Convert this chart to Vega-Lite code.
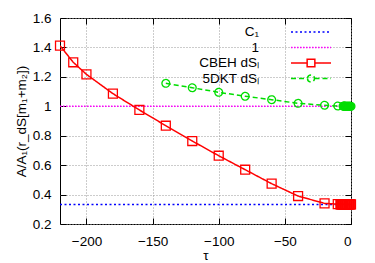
{
  "$schema": "https://vega.github.io/schema/vega-lite/v6.json",
  "width": 291,
  "height": 206,
  "autosize": "none",
  "padding": {"left": 60, "top": 18, "right": 24, "bottom": 39},
  "background": "white",
  "config": {
    "font": "Liberation Sans",
    "view": {"stroke": "black", "strokeWidth": 1},
    "axis": {
      "labelFont": "Liberation Sans",
      "titleFont": "Liberation Sans",
      "labelFontSize": 13.5,
      "titleFontSize": 13.5,
      "titleFontWeight": "normal",
      "labelColor": "black",
      "titleColor": "black",
      "domain": false,
      "tickColor": "black",
      "tickWidth": 1,
      "gridColor": "#999999",
      "gridDash": [1, 2],
      "gridWidth": 1,
      "gridOpacity": 1
    }
  },
  "data": {
    "values": [
      {"tau": -220, "v": 0.3333, "s": "C₁"},
      {"tau": 0, "v": 0.3333, "s": "C₁"},
      {"tau": -220, "v": 1.0, "s": "1"},
      {"tau": 0, "v": 1.0, "s": "1"},
      {"tau": -220, "v": 1.412, "s": "CBEH dSₗ"},
      {"tau": -210, "v": 1.299, "s": "CBEH dSₗ"},
      {"tau": -200, "v": 1.217, "s": "CBEH dSₗ"},
      {"tau": -180, "v": 1.086, "s": "CBEH dSₗ"},
      {"tau": -160, "v": 0.975, "s": "CBEH dSₗ"},
      {"tau": -140, "v": 0.868, "s": "CBEH dSₗ"},
      {"tau": -120, "v": 0.764, "s": "CBEH dSₗ"},
      {"tau": -100, "v": 0.664, "s": "CBEH dSₗ"},
      {"tau": -80, "v": 0.569, "s": "CBEH dSₗ"},
      {"tau": -60, "v": 0.474, "s": "CBEH dSₗ"},
      {"tau": -40, "v": 0.39, "s": "CBEH dSₗ"},
      {"tau": -20, "v": 0.34, "s": "CBEH dSₗ"},
      {"tau": -10, "v": 0.335, "s": "CBEH dSₗ"},
      {"tau": -8, "v": 0.334, "s": "CBEH dSₗ"},
      {"tau": -7.5, "v": 0.334, "s": "CBEH dSₗ"},
      {"tau": -7, "v": 0.334, "s": "CBEH dSₗ"},
      {"tau": -6.5, "v": 0.334, "s": "CBEH dSₗ"},
      {"tau": -6, "v": 0.334, "s": "CBEH dSₗ"},
      {"tau": -5.5, "v": 0.334, "s": "CBEH dSₗ"},
      {"tau": -5, "v": 0.334, "s": "CBEH dSₗ"},
      {"tau": -4.5, "v": 0.3335, "s": "CBEH dSₗ"},
      {"tau": -4, "v": 0.3335, "s": "CBEH dSₗ"},
      {"tau": -3.5, "v": 0.3335, "s": "CBEH dSₗ"},
      {"tau": -3, "v": 0.3335, "s": "CBEH dSₗ"},
      {"tau": -2.5, "v": 0.3335, "s": "CBEH dSₗ"},
      {"tau": -2, "v": 0.3333, "s": "CBEH dSₗ"},
      {"tau": -1.5, "v": 0.3333, "s": "CBEH dSₗ"},
      {"tau": -1, "v": 0.3333, "s": "CBEH dSₗ"},
      {"tau": -0.5, "v": 0.3333, "s": "CBEH dSₗ"},
      {"tau": 0, "v": 0.3333, "s": "CBEH dSₗ"},
      {"tau": -140, "v": 1.156, "s": "5DKT dSₗ"},
      {"tau": -120, "v": 1.126, "s": "5DKT dSₗ"},
      {"tau": -100, "v": 1.095, "s": "5DKT dSₗ"},
      {"tau": -80, "v": 1.068, "s": "5DKT dSₗ"},
      {"tau": -60, "v": 1.045, "s": "5DKT dSₗ"},
      {"tau": -40, "v": 1.02, "s": "5DKT dSₗ"},
      {"tau": -20, "v": 1.007, "s": "5DKT dSₗ"},
      {"tau": -10, "v": 1.002, "s": "5DKT dSₗ"},
      {"tau": -6, "v": 1.001, "s": "5DKT dSₗ"},
      {"tau": -5.5, "v": 1.001, "s": "5DKT dSₗ"},
      {"tau": -5, "v": 1.001, "s": "5DKT dSₗ"},
      {"tau": -4.5, "v": 1.0, "s": "5DKT dSₗ"},
      {"tau": -4, "v": 1.0, "s": "5DKT dSₗ"},
      {"tau": -3.5, "v": 1.0, "s": "5DKT dSₗ"},
      {"tau": -3, "v": 1.0, "s": "5DKT dSₗ"},
      {"tau": -2.5, "v": 1.0, "s": "5DKT dSₗ"},
      {"tau": -2, "v": 1.0, "s": "5DKT dSₗ"},
      {"tau": -1.5, "v": 1.0, "s": "5DKT dSₗ"},
      {"tau": -1, "v": 1.0, "s": "5DKT dSₗ"},
      {"tau": -0.5, "v": 1.0, "s": "5DKT dSₗ"},
      {"tau": 0, "v": 1.0, "s": "5DKT dSₗ"}
    ]
  },
  "layer": [
    {
      "encoding": {
        "x": {
          "field": "tau", "type": "quantitative",
          "scale": {"domain": [-220, 0], "nice": false, "zero": false},
          "axis": {"title": "τ", "values": [-200, -150, -100, -50, 0], "tickSize": -6, "labelPadding": 16, "titlePadding": 1, "grid": true}
        },
        "y": {
          "field": "v", "type": "quantitative",
          "scale": {"domain": [0.2, 1.6], "nice": false, "zero": false},
          "axis": {"title": "A/A₁(r_dS[m₁+m₂])", "values": [0.2, 0.4, 0.6, 0.8, 1, 1.2, 1.4, 1.6], "format": "~g", "tickSize": -6, "labelPadding": 15, "titlePadding": 4, "grid": true}
        },
        "color": {
          "field": "s", "type": "nominal",
          "scale": {"domain": ["C₁", "1", "CBEH dSₗ", "5DKT dSₗ"], "range": ["#0000ff", "#ff00ff", "#ff0000", "#00dd00"]},
          "legend": {
            "orient": "none", "legendX": 243, "legendY": 6, "title": null, "padding": 0,
            "symbolType": "stroke", "symbolSize": 196, "symbolStrokeWidth": 1.5,
            "labelAlign": "right", "labelOffset": -60, "labelFontSize": 13.5, "labelFont": "Liberation Sans", "labelColor": "black",
            "rowPadding": 0.5,
            "encode": {
              "symbols": {
                "update": {
                  "shape": {"signal": "datum.label === 'CBEH dSₗ' ? 'M-2.857,0H-0.55M0.55,0H2.857M-0.55,-0.55H0.55V0.55H-0.55Z' : (datum.label === '5DKT dSₗ' ? 'M-2.857,0H-0.5M0.5,0H2.857M-0.5,0A0.5,0.5,0,1,0,0.5,0A0.5,0.5,0,1,0,-0.5,0Z' : 'M-2.857,0H2.857')"},
                  "strokeDash": {"signal": "datum.label === 'C₁' ? [2, 2.5] : (datum.label === '5DKT dSₗ' ? [5, 3] : (datum.label === 'CBEH dSₗ' ? [1, 0] : [1.5, 1.5]))"},
                  "stroke": {"signal": "datum.label === 'C₁' ? '#0000ff' : (datum.label === '5DKT dSₗ' ? '#00dd00' : (datum.label === 'CBEH dSₗ' ? '#ff0000' : '#ff00ff'))"},
                  "fill": {"value": "transparent"},
                  "opacity": {"value": 1},
                  "strokeOpacity": {"value": 1}
                }
              }
            }
          }
        },
        "strokeDash": {
          "field": "s", "type": "nominal",
          "scale": {"domain": ["C₁", "1", "CBEH dSₗ", "5DKT dSₗ"], "range": [[2, 2.5], [1.5, 1.5], [1, 0], [5, 3]]},
          "legend": null
        }
      },
      "layer": [
        {"mark": {"type": "line", "strokeWidth": 1.5, "clip": true}},
        {
          "transform": [{"filter": "datum.s === 'CBEH dSₗ'"}],
          "mark": {"type": "point", "shape": "square", "size": 80, "filled": false, "strokeWidth": 1.3, "opacity": 1},
          "encoding": {"strokeDash": {"value": [1, 0]}}
        },
        {
          "transform": [{"filter": "datum.s === '5DKT dSₗ'"}],
          "mark": {"type": "point", "shape": "circle", "size": 60, "filled": false, "strokeWidth": 1.3, "opacity": 1},
          "encoding": {"strokeDash": {"value": [1, 0]}}
        }
      ]
    },
    {
      "mark": {"type": "point", "opacity": 0},
      "encoding": {
        "x": {"field": "tau", "type": "quantitative", "scale": {"domain": [-220, 0], "nice": false, "zero": false}, "axis": {"orient": "top", "title": null, "labels": false, "grid": false, "values": [-200, -150, -100, -50, 0], "tickSize": -6}},
        "y": {"field": "v", "type": "quantitative", "scale": {"domain": [0.2, 1.6], "nice": false, "zero": false}, "axis": {"orient": "right", "title": null, "labels": false, "grid": false, "values": [0.2, 0.4, 0.6, 0.8, 1, 1.2, 1.4, 1.6], "tickSize": -6}}
      }
    }
  ],
  "resolve": {"axis": {"x": "independent", "y": "independent"}}
}
